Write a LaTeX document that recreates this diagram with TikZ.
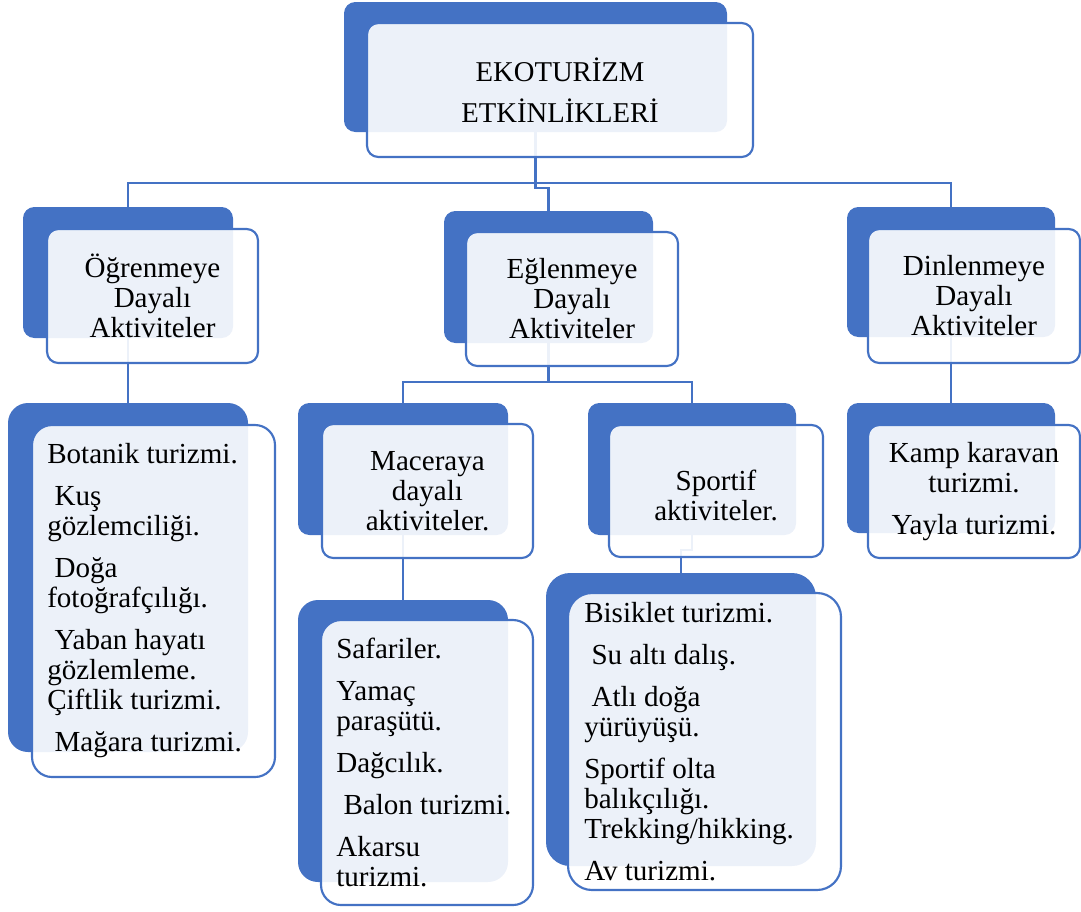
\documentclass[tikz,border=0pt]{standalone}
\usepackage{fontspec}
\setmainfont{Liberation Serif}
\usetikzlibrary{fit}
\definecolor{ofblue}{HTML}{4472C4}
% small indent used at the start of some list lines
\newcommand\ldsp{\hspace*{0.25em}}

\begin{document}
\begin{tikzpicture}[x=0.75pt,y=-0.75pt,
  back/.style={fill=ofblue, draw=none, inner sep=0pt, outer sep=0pt, rounded corners=8.5pt},
  front/.style={fill=white, fill opacity=0.9, draw=ofblue, draw opacity=1, line width=1.6pt,
                inner sep=0pt, outer sep=0pt, rounded corners=8.5pt},
  leafback/.style={back, rounded corners=15pt},
  leaffront/.style={front, rounded corners=15pt},
  conn/.style={draw=ofblue, line width=1.6pt},
  lbl/.style={font=\fontsize{21.8}{22.5}\selectfont, align=center, inner sep=0pt, text=black},
  ttl/.style={font=\fontsize{21.5}{30.75}\selectfont, align=center, inner sep=0pt, text=black},
  list/.style={font=\fontsize{21.8}{22.5}\selectfont, align=left, inner sep=0pt, anchor=west, text=black},
]
\useasboundingbox (0,0) rectangle (1081,911);

% ---- solid back panels ----
\node[back, fit={(344,2) (727,132)}] (topB) {};
\node[back, fit={(23,207) (233,338)}] (ogrB) {};
\node[back, fit={(444,211) (653,343)}] (eglB) {};
\node[back, fit={(847,207) (1055,337)}] (dinB) {};
\node[back, fit={(298,403) (508,535)}] (macB) {};
\node[back, fit={(588,403) (796,535)}] (spoB) {};
\node[back, fit={(847,403) (1055,533)}] (kampB) {};
\node[leafback, fit={(8,403) (248,752)}] (leafB) {};
\node[leafback, fit={(298,600) (508,882)}] (safB) {};
\node[leafback, rounded corners=18pt, fit={(546,573) (816,866)}] (bisB) {};

% ---- connectors ----
\coordinate (busA) at (537,183);
\coordinate (jogA) at (0,188);
\coordinate (busB) at (0,382);
\coordinate (jogB) at (0,550);
\draw[conn] (ogrB.north) |- (busA) -| (dinB.north);
\draw[conn] (topB.south) -- (topB.south |- jogA) -- (eglB.north |- jogA) -- (eglB.north);
\draw[conn] (eglB.south) -- (eglB.south |- busB);
\draw[conn] (macB.north) |- (spoB.north |- busB) -- (spoB.north);
\draw[conn] (ogrB.south) -- (leafB.north);
\draw[conn] (dinB.south) -- (kampB.north);
\draw[conn] (macB.south) -- (safB.north);
\draw[conn] (spoB.south) -- (spoB.south |- jogB) -- (bisB.north |- jogB) -- (bisB.north);

% ---- translucent front panels ----
\node[front, fit={(367,23) (753,157)}] (topF) {};
\node[front, fit={(47,229) (258,363)}] (ogrF) {};
\node[front, fit={(466,232) (678,366)}] (eglF) {};
\node[front, fit={(868,229) (1080,363)}] (dinF) {};
\node[front, fit={(322,424) (533,558)}] (macF) {};
\node[front, fit={(609,425) (823,557)}] (spoF) {};
\node[front, fit={(868,425) (1080,558)}] (kampF) {};
\node[leaffront, fit={(32,425) (275,777)}] (leafF) {};
\node[leaffront, fit={(321,620) (533,905)}] (safF) {};
\node[leaffront, rounded corners=18pt, fit={(568,593) (841,890)}] (bisF) {};

% ---- labels ----
\node[ttl] (topT) at (topF.center) {EKOTURİZM\\ETKİNLİKLERİ};
\node[lbl] (ogrT) at (ogrF.center) {Öğrenmeye\\Dayalı\\Aktiviteler};
\node[lbl] (eglT) at (eglF.center) {Eğlenmeye\\Dayalı\\Aktiviteler};
\node[lbl] (dinT) at (dinF.center) {Dinlenmeye\\Dayalı\\Aktiviteler};
\node[lbl] (macT) at (macF.center) {Maceraya\\dayalı\\aktiviteler.};
\node[lbl, yshift=-3pt] (spoT) at (spoF.center) {Sportif\\aktiviteler.};
\node[lbl] (kampT) at (kampF.center) {Kamp karavan\\turizmi.\\[9pt]Yayla turizmi.};

\node[list] (leafT) at ([xshift=11.25pt]leafF.west)
  {Botanik turizmi.\\[9pt]\ldsp Kuş\\gözlemciliği.\\[9pt]\ldsp Doğa\\fotoğrafçılığı.\\[9pt]\ldsp Yaban hayatı\\gözlemleme.\\Çiftlik turizmi.\\[9pt]\ldsp Mağara turizmi.};
\node[list] (safT) at ([xshift=11.25pt]safF.west)
  {Safariler.\\[9pt]Yamaç\\paraşütü.\\[9pt]Dağcılık.\\[9pt]\ldsp Balon turizmi.\\[9pt]Akarsu\\turizmi.};
\node[list] (bisT) at ([xshift=12pt]bisF.west)
  {Bisiklet turizmi.\\[9pt]\ldsp Su altı dalış.\\[9pt]\ldsp Atlı doğa\\yürüyüşü.\\[9pt]Sportif olta\\balıkçılığı.\\Trekking/hikking.\\[9pt]Av turizmi.};
\end{tikzpicture}
\end{document}
